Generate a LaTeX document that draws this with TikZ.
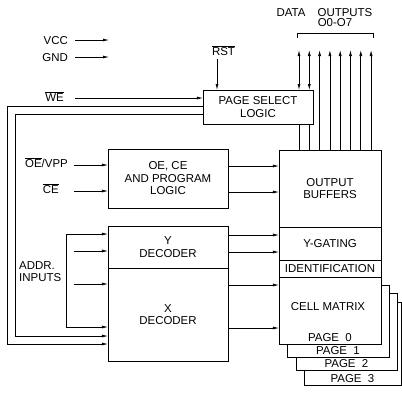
\documentclass[tikz,border=0pt]{standalone}
\usepackage{fontspec}
\setmainfont{Liberation Sans}
\usetikzlibrary{arrows.meta}
\newcommand{\ovl}[1]{$\overline{\mbox{#1}}$}

\begin{document}
\begin{tikzpicture}[x=1bp,y=-1bp,
  lbl/.style={inner sep=0pt,align=center,font=\fontsize{11.5}{12.5}\selectfont},
  blk/.style={lbl,draw,line width=0.8bp,outer sep=0pt,fill=white},
  ln/.style={line width=0.75bp},
  arr/.style={ln,-{Latex[length=6bp,width=3bp]}},
  biarr/.style={ln,{Latex[length=6bp,width=3bp]}-{Latex[length=6bp,width=3bp]}}]
\path[use as bounding box] (0,0) rectangle (402,397);
% blocks
\node[blk,minimum width=110bp,minimum height=34bp] (psl) at (258,107) {PAGE SELECT\\LOGIC};
\node[blk,minimum width=120bp,minimum height=59bp] (ocl) at (168,178.5) {OE, CE\\AND PROGRAM\\LOGIC};
\node[blk,minimum width=120bp,minimum height=42bp] (ydec) at (168,247) {Y\\DECODER};
\node[blk,minimum width=120bp,minimum height=93bp] (xdec) at (168,314.5) {X\\DECODER};
\node[blk,minimum width=102bp,minimum height=77bp] (obuf) at (330,188.5) {OUTPUT\\BUFFERS};
\node[blk,minimum width=102bp,minimum height=33bp] (ygat) at (330,243.5) {Y-GATING};
\node[blk,minimum width=102bp,minimum height=17bp] (ident) at (330,268.5) {IDENTIFICATION};
% pages of the cell matrix
\node[blk,minimum width=97bp,minimum height=83bp] (pg3) at (352.5,343.5) {};
\node[lbl,anchor=south] (pg3txt) at ([yshift=2bp]pg3.south) {PAGE\ \ 3};
\node[blk,minimum width=101bp,minimum height=77bp] (pg2) at (346.5,331.5) {};
\node[lbl,anchor=south] (pg2txt) at ([yshift=2bp]pg2.south) {PAGE\ \ 2};
\node[blk,minimum width=102bp,minimum height=72bp] (pg1) at (338,321) {};
\node[lbl,anchor=south] (pg1txt) at ([yshift=2bp]pg1.south) {PAGE\ \ 1};
\node[blk,minimum width=102bp,minimum height=67bp] (cell) at (330,310.5) {};
\node[lbl,anchor=south] (pg0txt) at ([yshift=2bp]cell.south) {PAGE\ \ 0};
\node[lbl] (celltxt) at (328,307) {CELL MATRIX};
% input labels
\node[lbl,anchor=east] (vcc) at (68,41) {VCC};
\node[lbl,anchor=east] (gnd) at (68,58) {GND};
\node[lbl,anchor=east] (we) at (64,97) {\ovl{WE}};
\node[lbl,anchor=east] (oe) at (68,163) {\ovl{OE}/VPP};
\node[lbl,anchor=east] (ce) at (59,189) {\ovl{CE}};
\node[lbl,anchor=west,align=left] (addr) at (19,271.5) {ADDR.\\INPUTS};
\node[lbl] (rst) at (223.5,51) {\ovl{RST}};
\node[lbl] (data) at (291,13) {DATA};
\node[lbl] (outs) at (345,13) {OUTPUTS};
\node[lbl] (o07) at (335,23) {O0-O7};
% supply and control inputs
\draw[arr] (vcc.east) ++(7,-1) -- ++(34,0);
\draw[arr] (gnd.east) ++(7,-1) -- ++(34,0);
\draw[arr] (we.east) ++(11,1) -- (psl.west |- 0,98);
\draw[arr] ([yshift=-3bp]rst.south -| 217,0) -- (217,0 |- psl.north);
\draw[arr] (oe.east) ++(6,2) -- (ocl.west |- 0,165);
\draw[arr] (ce.east) ++(15,2) -- (ocl.west |- 0,191);
% page select outputs round to the x decoder
\draw[arr] (psl.west |- 0,106) -- (7,106) -- (7,344) -- (xdec.west |- 0,344);
\draw[arr] (psl.west |- 0,114) -- (15,114) -- (15,336) -- (xdec.west |- 0,336);
% address inputs
\draw[biarr] (ydec.west |- 0,234) -- (66,234) -- (66,327) -- (xdec.west |- 0,327);
\draw[arr] (74,251) -- (ydec.west |- 0,251);
\draw[arr] (74,284) -- (xdec.west |- 0,284);
% block to block
\draw[arr] (ocl.east |- 0,166) -- (obuf.west |- 0,166);
\draw[arr] (ocl.east |- 0,192) -- (obuf.west |- 0,192);
\draw[arr] (ydec.east |- 0,235) -- (ygat.west |- 0,235);
\draw[arr] (ydec.east |- 0,252) -- (ygat.west |- 0,252);
\draw[arr] (xdec.east |- 0,285) -- (cell.west |- 0,285);
\draw[arr] (xdec.east |- 0,328) -- (cell.west |- 0,328);
% data outputs
\foreach \i in {0,...,7}{
  \pgfmathsetmacro\dx{299+10.3*\i}
  \ifnum\i<2
    \draw[ln] (\dx,0 |- obuf.north) -- (\dx,0 |- psl.south);
    \draw[biarr] (\dx,0 |- psl.north) -- (\dx,50);
  \else
    \draw[arr] (\dx,0 |- obuf.north) -- (\dx,50);
  \fi
}
\draw[ln] (297,38) -- (297,33) -- (373,33) -- (373,38);
\end{tikzpicture}
\end{document}
